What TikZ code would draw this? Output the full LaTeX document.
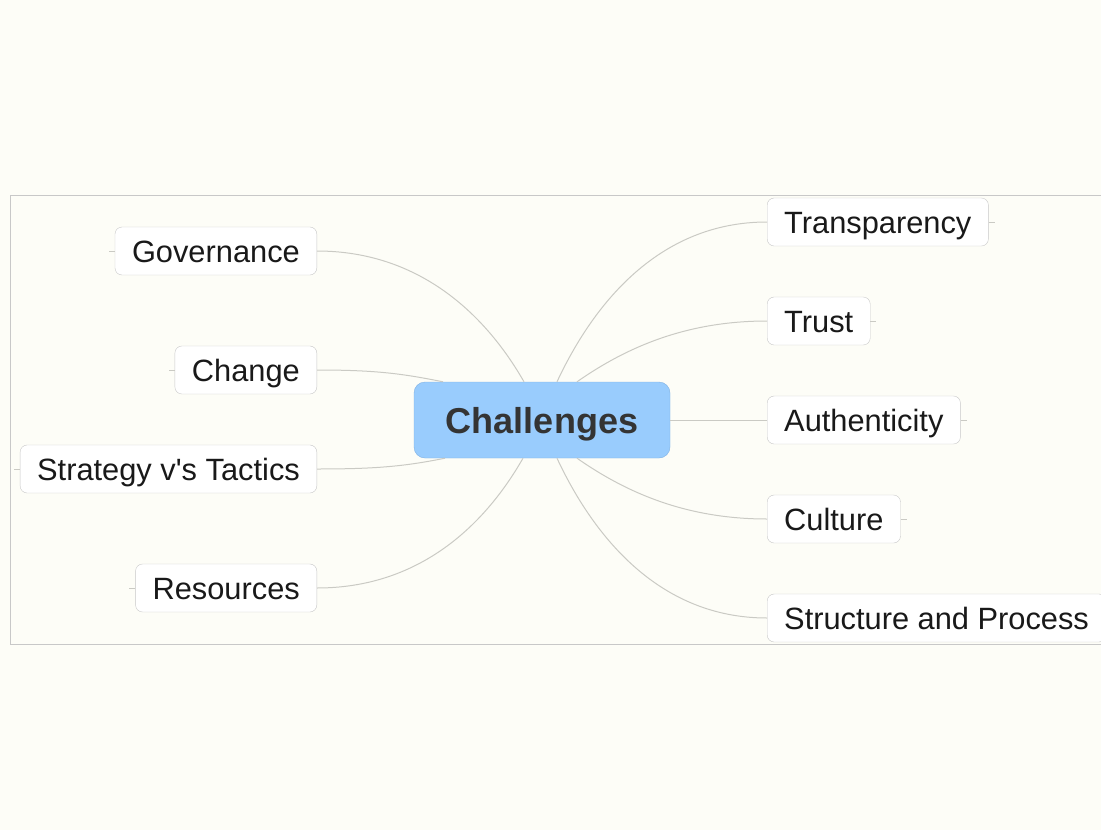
\documentclass[tikz,border=0pt]{standalone}
\usepackage{fontspec}
\setmainfont{Liberation Sans}

\definecolor{bgcream}{RGB}{253,253,247}
\definecolor{linegray}{RGB}{202,202,196}
\definecolor{boxgray}{RGB}{200,200,200}
\definecolor{hubblue}{RGB}{153,204,253}
\definecolor{hubedge}{RGB}{128,178,228}
\definecolor{hubtext}{RGB}{52,52,52}

\tikzset{
  topic/.style={draw=boxgray, fill=white, rounded corners=7pt,
    minimum height=48pt, inner xsep=17pt, text height=22pt, text depth=0pt,
    font=\fontsize{30.8}{36}\selectfont, text=black!90},
  hub/.style={draw=hubedge, fill=hubblue, rounded corners=11pt,
    minimum width=256pt, minimum height=76pt, text height=26pt, text depth=0pt,
    font=\fontsize{36}{42}\selectfont\bfseries, text=hubtext},
  branch/.style={draw=linegray, line width=1pt},
}

\begin{document}
\begin{tikzpicture}[x=1pt,y=-1pt]

\useasboundingbox (0,0) rectangle (1101,830);
\clip (0,0) rectangle (1101,830);
\fill[bgcream] (0,0) rectangle (1101,830);
\draw[boxgray, line width=0.9pt] (10,195) rectangle (1130,644);

\node[hub] (ch) at (542,420) {Challenges};

% left branches
\node[topic, anchor=east] (gov) at (317,251) {Governance};
\node[topic, anchor=east] (chg) at (317,370) {Change};
\node[topic, anchor=east] (stt) at (317,469) {Strategy v\textquotesingle s Tactics};
\node[topic, anchor=east] (res) at (317,588) {Resources};

% right branches
\node[topic, anchor=west] (tra) at (767,222) {Transparency};
\node[topic, anchor=west] (tru) at (767,321) {Trust};
\node[topic, anchor=west] (aut) at (767,420) {Authenticity};
\node[topic, anchor=west] (cul) at (767,519) {Culture};
\node[topic, anchor=west] (stp) at (767,618) {Structure and Process};

\draw[branch] (gov.east) .. controls +(100,0) and +(-40,-70) .. ([xshift=-18pt]ch.north);
\draw[branch] (chg.east) .. controls +(60,0) and +(-40,-8) .. ([xshift=-99pt]ch.north);
\draw[branch] (stt.east) .. controls +(60,0) and +(-40,8) .. ([xshift=-97pt]ch.south);
\draw[branch] (res.east) .. controls +(100,0) and +(-40,70) .. ([xshift=-19pt]ch.south);

\draw[branch] (tra.west) .. controls +(-110,0) and +(35,-75) .. ([xshift=15pt]ch.north);
\draw[branch] (tru.west) .. controls +(-80,0) and +(50,-35) .. ([xshift=35pt]ch.north);
\draw[branch] (aut.west) -- (ch.east);
\draw[branch] (cul.west) .. controls +(-80,0) and +(50,35) .. ([xshift=35pt]ch.south);
\draw[branch] (stp.west) .. controls +(-110,0) and +(35,75) .. ([xshift=15pt]ch.south);

% stubs
\foreach \n in {gov,chg,stt,res}{
\draw[branch] (\n.west) -- +(-6,0);
}
\foreach \n in {tra,tru,aut,cul}{
\draw[branch] (\n.east) -- +(6,0);
}
\end{tikzpicture}
\end{document}
